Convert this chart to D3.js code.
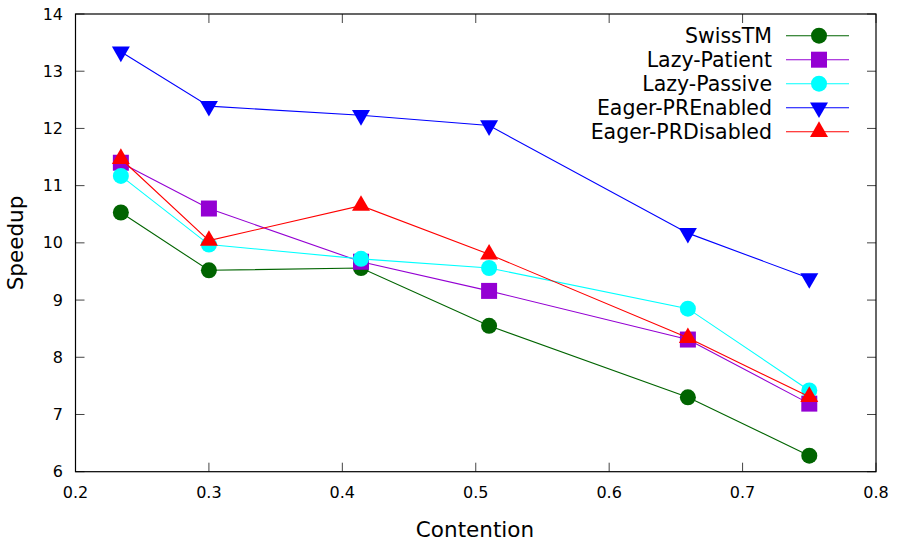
<!DOCTYPE html>
<html>
<head>
<meta charset="utf-8">
<style>
  body { margin: 0; background: #fff; }
  text { font-family: "DejaVu Sans", sans-serif; fill: #000; }
</style>
</head>
<body>
<script src="https://d3js.org/d3.v7.min.js"></script>
<svg id="chart" width="899" height="543"></svg>
<script>
var contention = [0.234, 0.3, 0.414, 0.51, 0.659, 0.75];

var swissTM        = [10.53, 9.52, 9.56, 8.55, 7.30, 6.28];
var lazyPatient    = [11.40, 10.60, 9.67, 9.16, 8.31, 7.19];
var lazyPassive    = [11.17, 9.97, 9.72, 9.56, 8.85, 7.42];
var eagerPREnabled = [13.34, 12.39, 12.23, 12.05, 10.17, 9.38];
var eagerPRDisabled = [11.47, 10.04, 10.65, 9.80, 8.34, 7.31];

var xTicks = [0.2, 0.3, 0.4, 0.5, 0.6, 0.7, 0.8];
var yTicks = [6, 7, 8, 9, 10, 11, 12, 13, 14];

var series = [
  { name: "SwissTM", values: swissTM, color: "#006400", shape: "circle" },
  { name: "Lazy-Patient", values: lazyPatient, color: "#9400d3", shape: "square" },
  { name: "Lazy-Passive", values: lazyPassive, color: "#00ffff", shape: "circle" },
  { name: "Eager-PREnabled", values: eagerPREnabled, color: "#0000ff", shape: "down" },
  { name: "Eager-PRDisabled", values: eagerPRDisabled, color: "#ff0000", shape: "up" }
];

var svg = d3.select("#chart");
var plotL = 75.5, plotR = 876, plotT = 14, plotB = 471.7;

var x = d3.scaleLinear().domain([0.2, 0.8]).range([plotL, plotR]);
var y = d3.scaleLinear().domain([6, 14]).range([plotB, plotT]);

// ticks, mirrored on all four sides
var tickLen = 9;
var g = svg.append("g");
xTicks.forEach(function(t) {
  g.append("line").attr("x1", x(t)).attr("x2", x(t)).attr("y1", plotB).attr("y2", plotB - tickLen)
    .attr("stroke", "#444");
  g.append("line").attr("x1", x(t)).attr("x2", x(t)).attr("y1", plotT).attr("y2", plotT + tickLen)
    .attr("stroke", "#444");
  g.append("text").attr("x", x(t)).attr("y", 498).attr("text-anchor", "middle")
    .style("font-size", "16px").text(d3.format(".1f")(t));
});
yTicks.forEach(function(t) {
  g.append("line").attr("x1", plotL).attr("x2", plotL + tickLen).attr("y1", y(t)).attr("y2", y(t))
    .attr("stroke", "#444");
  g.append("line").attr("x1", plotR).attr("x2", plotR - tickLen).attr("y1", y(t)).attr("y2", y(t))
    .attr("stroke", "#444");
  g.append("text").attr("x", 63).attr("y", y(t) + 5.5).attr("text-anchor", "end")
    .style("font-size", "16px").text(t);
});

svg.append("rect").attr("x", plotL).attr("y", plotT)
  .attr("width", plotR - plotL).attr("height", plotB - plotT)
  .attr("fill", "none").attr("stroke", "#000").attr("stroke-width", 1.2);

svg.append("text").attr("x", 475).attr("y", 537).attr("text-anchor", "middle")
  .style("font-size", "21.5px").text("Contention");
svg.append("text").attr("transform", "translate(23,243) rotate(-90)").attr("text-anchor", "middle")
  .style("font-size", "21.5px").text("Speedup");

function markerPath(shape) {
  if (shape === "circle") return d3.symbol().type(d3.symbolCircle).size(Math.PI * 64)();
  if (shape === "square") return d3.symbol().type(d3.symbolSquare).size(256)();
  return d3.symbol().type(d3.symbolTriangle).size(140)();
}
function markerTransform(shape, px, py) {
  var r = shape === "down" ? " rotate(180)" : "";
  return "translate(" + px + "," + py + ")" + r;
}

var line = d3.line().x(function(d) { return x(d[0]); }).y(function(d) { return y(d[1]); });

series.forEach(function(s) {
  var pts = contention.map(function(c, i) { return [c, s.values[i]]; });
  svg.append("path").attr("d", line(pts)).attr("fill", "none")
    .attr("stroke", s.color).attr("stroke-width", 1.1);
  svg.selectAll(null).data(pts).enter().append("path")
    .attr("d", markerPath(s.shape))
    .attr("transform", function(d) { return markerTransform(s.shape, x(d[0]), y(d[1])); })
    .attr("fill", s.color);
});

// legend
var legend = svg.append("g");
series.forEach(function(s, i) {
  var ly = 35.7 + i * 24;
  legend.append("text").attr("x", 772).attr("y", ly + 7).attr("text-anchor", "end")
    .style("font-size", "20.5px").text(s.name);
  legend.append("line").attr("x1", 786).attr("x2", 849).attr("y1", ly).attr("y2", ly)
    .attr("stroke", s.color).attr("stroke-width", 1.1);
  legend.append("path").attr("d", markerPath(s.shape))
    .attr("transform", markerTransform(s.shape, 819, ly)).attr("fill", s.color);
});
</script>
</body>
</html>
